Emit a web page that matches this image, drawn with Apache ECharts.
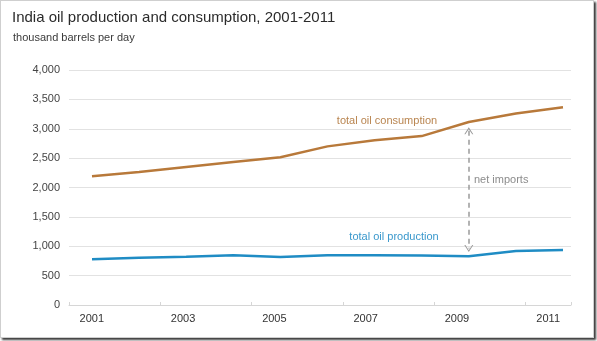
<!DOCTYPE html>
<html>
<head>
<meta charset="utf-8">
<script src="https://cdn.jsdelivr.net/npm/echarts@6/dist/echarts.min.js"></script>
<style>
html,body{margin:0;padding:0;background:#fff;}
#frame{position:absolute;left:0;top:0;width:594px;height:338px;box-sizing:border-box;border:1px solid #cfcfcf;box-shadow:2px 2px 2px #3a3a3a;background:#fff;}
#chart{position:absolute;left:0;top:0;width:597px;height:341px;}
</style>
</head>
<body>
<div id="frame"></div>
<div id="chart"></div>
<script>
const years = ['2001','2002','2003','2004','2005','2006','2007','2008','2009','2010','2011'];
const consumption = [2190, 2265, 2350, 2435, 2515, 2700, 2805, 2875, 3115, 3260, 3365];
const production = [777, 805, 822, 845, 815, 845, 848, 843, 830, 918, 935];
const yTicks = [0, 500, 1000, 1500, 2000, 2500, 3000, 3500, 4000];
const arrowFrom = 2965;
const arrowTo = 960;

const chev = 'path://M0,10 L5,0 L10,10 L8.8,10 L5,2.6 L1.2,10 Z';
const chart = echarts.init(document.getElementById('chart'), null, {renderer: 'canvas'});
const font = 'Arial, "Liberation Sans", sans-serif';
chart.setOption({
  animation: false,
  backgroundColor: 'transparent',
  textStyle: {fontFamily: font},
  grid: [
    {left: 69, right: 26, top: 70, bottom: 36},
    {left: 92, right: 34, top: 70, bottom: 36}
  ],
  xAxis: [
    {type: 'category', gridIndex: 0, data: years, boundaryGap: true,
     axisLine: {lineStyle: {color: '#d6d6d6', width: 1}},
     axisTick: {show: true, inside: true, length: 3, lineStyle: {color: '#d6d6d6'}},
     axisLabel: {interval: 1, color: '#333', fontSize: 11, margin: 8, fontFamily: font}},
    {type: 'category', gridIndex: 1, data: years, boundaryGap: false, show: false}
  ],
  yAxis: [
    {type: 'value', gridIndex: 0, min: yTicks[0], max: yTicks[yTicks.length-1], interval: 500,
     axisLine: {show: false}, axisTick: {show: false},
     splitLine: {lineStyle: {color: '#e2e2e2', width: 1}},
     axisLabel: {color: '#444', fontSize: 11, margin: 9, fontFamily: font,
       formatter: v => v.toLocaleString('en-US')}},
    {type: 'value', gridIndex: 1, min: yTicks[0], max: yTicks[yTicks.length-1], show: false}
  ],
  series: [
    {name: 'total oil consumption', type: 'line', xAxisIndex: 1, yAxisIndex: 1,
     data: consumption, symbol: 'none', lineStyle: {color: '#b8793a', width: 2.5},
     markLine: {silent: true, symbol: [chev, chev], symbolSize: [9, 7],
       label: {show: false},
       lineStyle: {color: '#9a9a9a', type: [5, 4], width: 1.5},
       data: [[{coord: ['2009', arrowFrom]}, {coord: ['2009', arrowTo]}]]}},
    {name: 'total oil production', type: 'line', xAxisIndex: 1, yAxisIndex: 1,
     data: production, symbol: 'none', lineStyle: {color: '#1f8cc4', width: 2.5}}
  ],
  graphic: [
    {type: 'text', left: 12, top: 10, style: {text: 'India oil production and consumption, 2001-2011',
      fill: '#2b2b2b', font: '15px ' + font}},
    {type: 'text', left: 13, top: 32, style: {text: 'thousand barrels per day',
      fill: '#3a3a3a', font: '11px ' + font}},
    {type: 'text', x: 387, y: 121, style: {text: 'total oil consumption', fill: '#b98550',
      font: '11px ' + font, align: 'center', verticalAlign: 'middle'}},
    {type: 'text', x: 474, y: 180, style: {text: 'net imports', fill: '#8c8c8c',
      font: '11px ' + font, align: 'left', verticalAlign: 'middle'}},
    {type: 'text', x: 394, y: 237, style: {text: 'total oil production', fill: '#3a98cc',
      font: '11px ' + font, align: 'center', verticalAlign: 'middle'}}
  ]
});
</script>
</body>
</html>
